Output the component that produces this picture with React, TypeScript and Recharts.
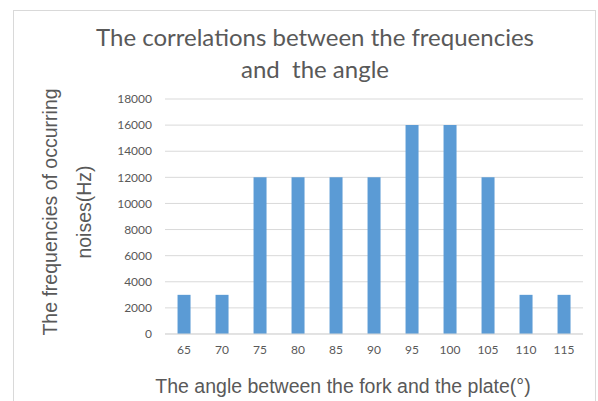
import { BarChart, Bar, XAxis, YAxis, CartesianGrid } from 'recharts'

const angles = ['65', '70', '75', '80', '85', '90', '95', '100', '105', '110', '115']
const frequencies = [3000, 3000, 12000, 12000, 12000, 12000, 16000, 16000, 12000, 3000, 3000]
const yTicks = [0, 2000, 4000, 6000, 8000, 10000, 12000, 14000, 16000, 18000]

const chartData = angles.map((a, i) => ({ angle: a, freq: frequencies[i] }))

const tickStyle = { fill: '#595959', fontSize: 12, fontFamily: 'Lato' }

function YTitle() {
  return (
    <g fill="#595959" fontFamily="Liberation Sans" fontSize={19.5}>
      <text x={0} y={0} transform="translate(57 212) rotate(-90)" textAnchor="middle">
        The frequencies of occurring
      </text>
      <text x={0} y={0} transform="translate(91 212) rotate(-90)" textAnchor="middle">
        noises(Hz)
      </text>
    </g>
  )
}

export default function App() {
  return (
    <div style={{ position: 'absolute', left: 0, top: 0, width: 598, height: 401, background: '#fff' }}>
      <div
        style={{
          position: 'absolute',
          left: 13,
          top: 10,
          width: 583,
          height: 400,
          border: '1px solid #d9d9d9',
          borderBottom: 'none',
          boxSizing: 'border-box',
        }}
      />
      <div
        style={{
          position: 'absolute',
          left: 0,
          top: 21,
          width: 630,
          textAlign: 'center',
          fontFamily: 'Lato',
          fontSize: 24,
          lineHeight: '32px',
          color: '#595959',
          whiteSpace: 'pre',
        }}
      >
        {'The correlations between the frequencies\nand  the angle'}
      </div>
      <div
        style={{
          position: 'absolute',
          left: 0,
          top: 375,
          width: 686,
          textAlign: 'center',
          fontFamily: 'Liberation Sans',
          fontSize: 19.5,
          color: '#595959',
        }}
      >
        The angle between the fork and the plate(°)
      </div>
      <div style={{ position: 'absolute', left: 0, top: 0 }}>
        <BarChart
          width={598}
          height={401}
          data={chartData}
          margin={{ top: 99, right: 15, left: 100, bottom: 37 }}
          barCategoryGap="33%"
        >
          <CartesianGrid vertical={false} stroke="#d9d9d9" />
          <XAxis
            dataKey="angle"
            tick={tickStyle}
            tickLine={false}
            axisLine={{ stroke: '#d9d9d9' }}
            tickSize={0}
            tickMargin={11}
            height={30}
          />
          <YAxis
            ticks={yTicks}
            domain={[0, 18000]}
            tick={tickStyle}
            tickLine={false}
            axisLine={false}
            tickSize={0}
            tickMargin={13}
            width={65}
            interval={0}
          />
          <Bar dataKey="freq" fill="#5b9bd5" isAnimationActive={false} />
          <YTitle />
        </BarChart>
      </div>
    </div>
  )
}
